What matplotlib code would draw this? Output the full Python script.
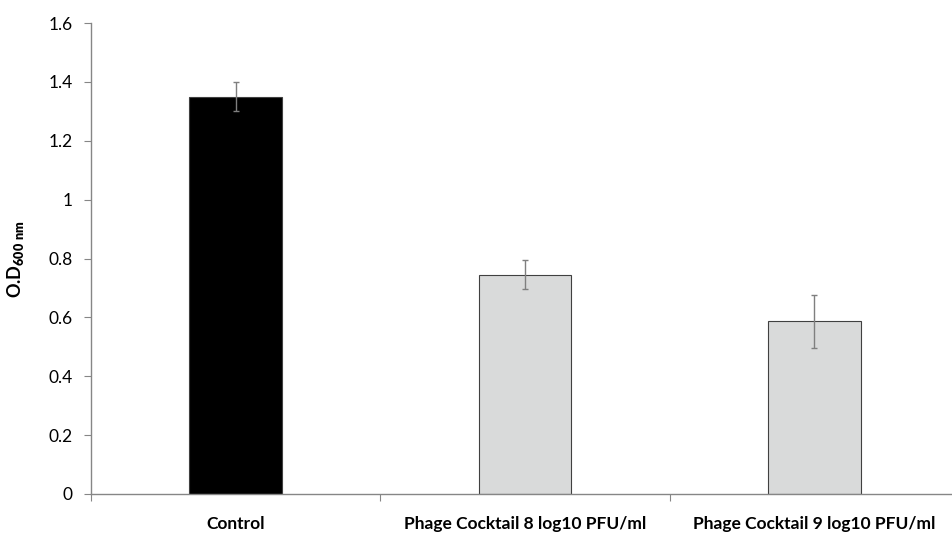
import matplotlib
matplotlib.use('Agg')
import matplotlib.pyplot as plt
import numpy as np

categories = ['Control', 'Phage Cocktail 8 log10 PFU/ml', 'Phage Cocktail 9 log10 PFU/ml']
values = [1.35, 0.745, 0.587]
errors = [0.05, 0.05, 0.09]
colors = ['#000000', '#d9dada', '#d9dada']
yticks = [0, 0.2, 0.4, 0.6, 0.8, 1, 1.2, 1.4, 1.6]
ytick_labels = ['0', '0.2', '0.4', '0.6', '0.8', '1', '1.2', '1.4', '1.6']

plt.rcParams['font.family'] = ['Lato', 'DejaVu Sans']
plt.rcParams['mathtext.fontset'] = 'custom'
plt.rcParams['mathtext.bf'] = 'Lato:weight=heavy'
plt.rcParams['mathtext.rm'] = 'Lato:weight=bold'

fig = plt.figure(figsize=(9.52, 5.33), dpi=100)
# axis runs slightly past the right edge, like the original crop
ax = fig.add_axes([91/952, (533-494)/533, 868/952, 471/533])

x = np.arange(len(categories))
ax.bar(x, values, width=0.32, color=colors, edgecolor='#404040', linewidth=0.8, zorder=2)
ax.errorbar(x, values, yerr=errors, fmt='none', ecolor='#7f7f7f', elinewidth=1,
            capsize=2.5, capthick=1, zorder=3)

ax.set_xlim(-0.5, 2.5)
ax.set_ylim(0, 1.6)
ax.set_yticks(yticks)
ax.set_yticklabels(ytick_labels, fontsize=12.5)

ax.set_xticks([-0.5, 0.5, 1.5, 2.5])
ax.set_xticklabels([])
ax.set_xticks(x, minor=True)
ax.set_xticklabels(categories, minor=True, fontsize=12.5, fontweight='bold')
ax.tick_params(axis='x', which='minor', length=0, pad=16)
ax.tick_params(axis='x', which='major', length=5, direction='out', color='#868686')
ax.tick_params(axis='y', length=5, direction='out', color='#868686', pad=8)

for s in ['top', 'right']:
    ax.spines[s].set_visible(False)
for s in ['left', 'bottom']:
    ax.spines[s].set_color('#868686')
    ax.spines[s].set_linewidth(1)

ax.set_ylabel(r'O.D$_{\mathbf{600\ nm}}$', fontsize=13, fontweight='bold', labelpad=16)

fig.savefig('out.png', dpi=100)
